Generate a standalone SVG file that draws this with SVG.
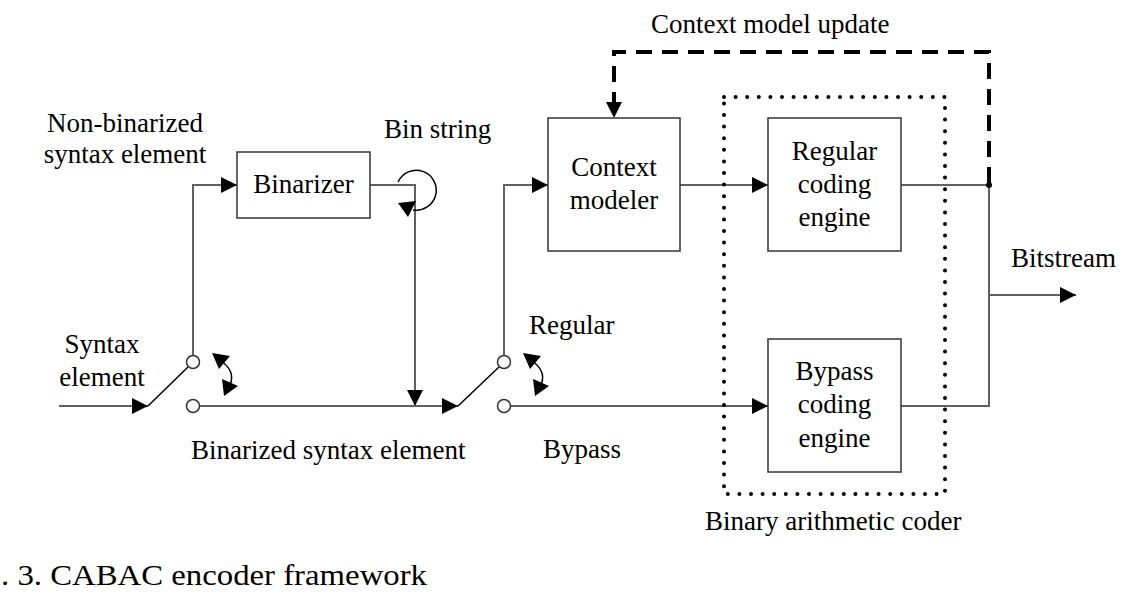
<svg xmlns="http://www.w3.org/2000/svg" width="1124" height="597" viewBox="0 0 1124 597">
<style>
  text { font-family: "Liberation Serif", "Times New Roman", serif; font-size: 27px; fill: #000; }
  .mid { text-anchor: middle; }
  .box { fill: #fff; stroke: #333; stroke-width: 1.5; }
  .wire { fill: none; stroke: #606060; stroke-width: 2; }
  .arm { fill: none; stroke: #000; stroke-width: 1.5; }
  .dash { fill: none; stroke: #000; stroke-width: 4; stroke-dasharray: 16 10; }
  .dots { fill: none; stroke: #000; stroke-width: 4; stroke-linecap: round; stroke-dasharray: 0 11.6; }
  .pin { fill: #fff; stroke: #333; stroke-width: 1.5; }
  .thin { fill: none; stroke: #000; stroke-width: 1.5; }
  .head { fill: #000; }
</style>
<defs>
  <marker id="ah" markerWidth="16" markerHeight="16" refX="16" refY="8" orient="auto" markerUnits="userSpaceOnUse">
    <path d="M0,0 L16,8 L0,16 Z" fill="#000"/>
  </marker>
  <g id="swarrow">
    <path class="thin" d="M220,360 Q236,371 230,385"/>
    <path class="head" d="M212,353 L230,356 L219,369 Z"/>
    <path class="head" d="M224,396 L222,379 L238,386 Z"/>
  </g>
</defs>
<rect width="1124" height="597" fill="#fff"/>

<g id="connectors">
  <!-- input to switch 1 -->
  <line class="wire" x1="59" y1="406" x2="148" y2="406" marker-end="url(#ah)"/>
  <line class="arm" x1="148" y1="406" x2="188" y2="367"/>
  <!-- switch 1 up to binarizer -->
  <polyline class="wire" points="193,355 193,185 237,185" marker-end="url(#ah)"/>
  <!-- binarizer out down -->
  <polyline class="wire" points="370,185 415,185 415,406" marker-end="url(#ah)"/>
  <!-- switch 1 lower to switch 2 -->
  <line class="wire" x1="200" y1="406" x2="458" y2="406" marker-end="url(#ah)"/>
  <line class="arm" x1="458" y1="406" x2="499" y2="367"/>
  <!-- switch 2 up to context modeler -->
  <polyline class="wire" points="504,355 504,185 548,185" marker-end="url(#ah)"/>
  <!-- context modeler to regular engine -->
  <line class="wire" x1="680" y1="185" x2="768" y2="185" marker-end="url(#ah)"/>
  <!-- bypass line -->
  <line class="wire" x1="511" y1="406" x2="768" y2="406" marker-end="url(#ah)"/>
  <!-- outputs -->
  <line class="wire" x1="901" y1="185" x2="989" y2="185"/>
  <polyline class="wire" points="901,406 989,406 989,185"/>
  <line class="wire" x1="989" y1="295" x2="1076" y2="295" marker-end="url(#ah)"/>
  <circle cx="989" cy="185" r="3" fill="#000"/>
  <!-- context model update dashed -->
  <polyline class="dash" points="989,183 989,52 614,52 614,104"/>
  <path d="M606,102 L622,102 L614,118 Z" fill="#000"/>
  <!-- bin string arc -->
  <path class="thin" d="M398,182 A20,20 0 1 1 413,210"/>
  <path d="M398,203 L416,201 L408,217 Z" fill="#000"/>
  <!-- switch curved arrows -->
  <use href="#swarrow"/>
  <use href="#swarrow" x="311"/>
  <!-- switch pins -->
  <circle class="pin" cx="193" cy="362" r="6.5"/>
  <circle class="pin" cx="193" cy="406" r="6.5"/>
  <circle class="pin" cx="504" cy="362" r="6.5"/>
  <circle class="pin" cx="504" cy="406" r="6.5"/>
</g>

<g id="binary-arithmetic-coder">
  <rect class="dots" x="724" y="97" width="221" height="397"/>
  <text x="705" y="530">Binary arithmetic coder</text>
</g>

<g id="binarizer">
  <rect class="box" x="237" y="152" width="133" height="66"/>
  <text class="mid" x="303.5" y="193">Binarizer</text>
</g>

<g id="context-modeler">
  <rect class="box" x="548" y="118" width="132" height="133"/>
  <text class="mid" x="614" y="176">Context</text>
  <text class="mid" x="614" y="209">modeler</text>
</g>

<g id="regular-coding-engine">
  <rect class="box" x="768" y="118" width="133" height="133"/>
  <text class="mid" x="834.5" y="160">Regular</text>
  <text class="mid" x="834.5" y="193">coding</text>
  <text class="mid" x="834.5" y="226">engine</text>
</g>

<g id="bypass-coding-engine">
  <rect class="box" x="768" y="339" width="133" height="133"/>
  <text class="mid" x="834.5" y="380">Bypass</text>
  <text class="mid" x="834.5" y="413">coding</text>
  <text class="mid" x="834.5" y="447">engine</text>
</g>

<g id="labels">
  <text class="mid" x="125" y="132">Non-binarized</text>
  <text class="mid" x="125" y="163">syntax element</text>
  <text x="384" y="138">Bin string</text>
  <text class="mid" x="102" y="353">Syntax</text>
  <text class="mid" x="102" y="386">element</text>
  <text x="191" y="459">Binarized syntax element</text>
  <text x="529" y="334">Regular</text>
  <text x="543" y="458">Bypass</text>
  <text x="651" y="33">Context model update</text>
  <text x="1011" y="267">Bitstream</text>
  <text x="1" y="585" style="font-size:30px" textLength="426" lengthAdjust="spacingAndGlyphs">. 3. CABAC encoder framework</text>
</g>
</svg>
